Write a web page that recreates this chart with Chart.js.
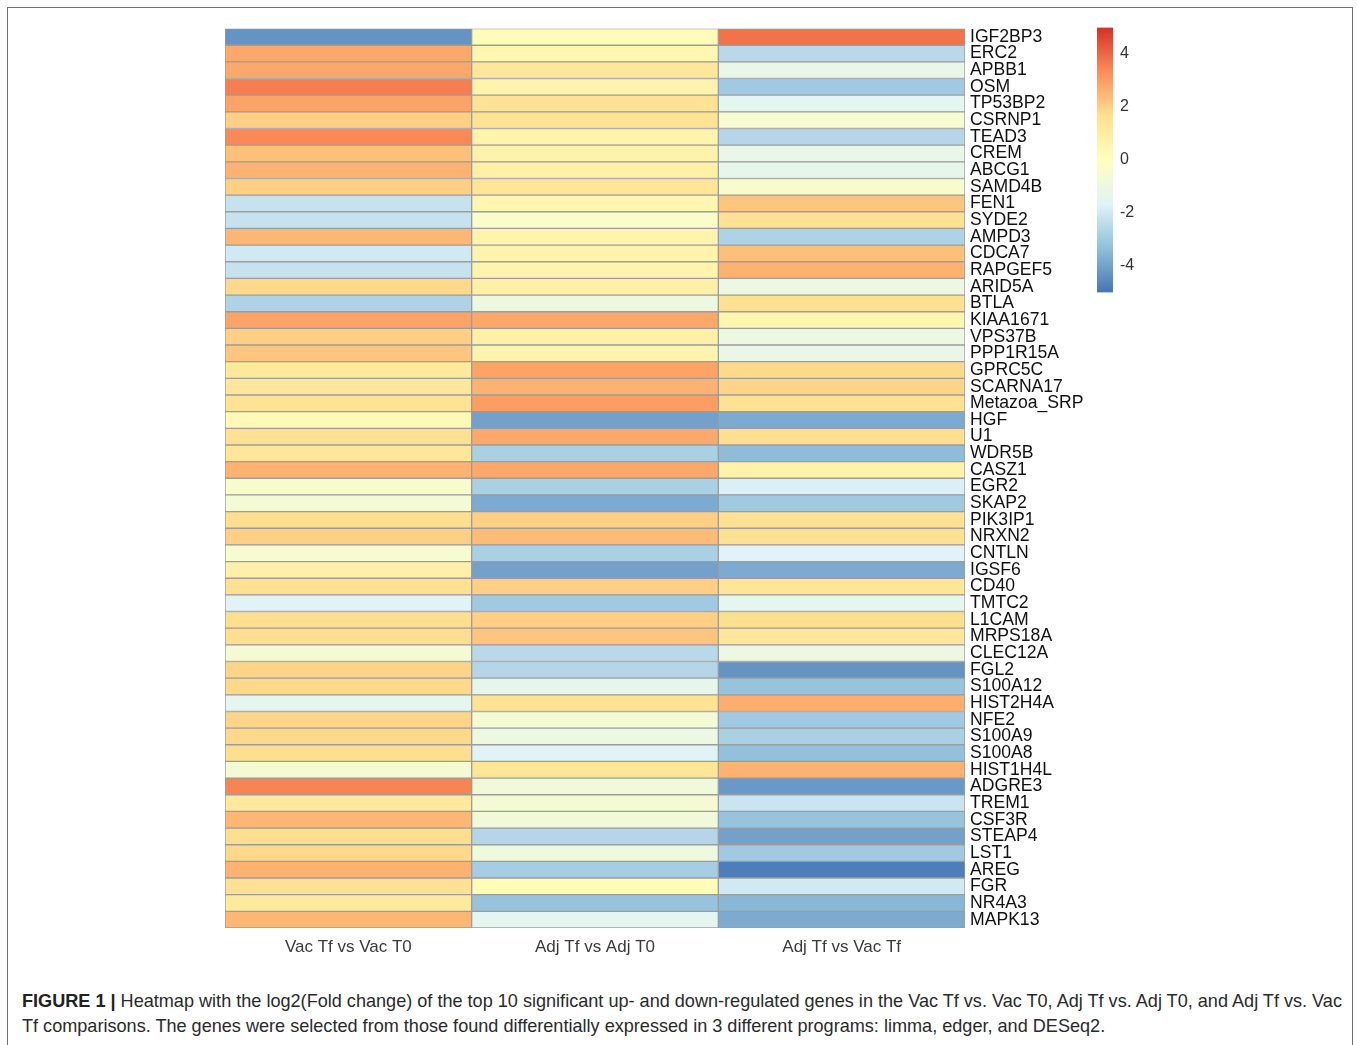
<!DOCTYPE html>
<html>
<head>
<meta charset="utf-8">
<script src="https://cdn.jsdelivr.net/npm/chart.js@4.4.0/dist/chart.umd.min.js"></script>
<style>
    body { margin: 0; background: #fff; width: 1357px; height: 1045px; overflow: hidden; position: relative; font-family: "Liberation Sans", Arial, sans-serif; }
    .frame { position: absolute; left: 7px; top: 7px; width: 1346px; height: 1100px; border: 1.5px solid #6e6e6e; box-sizing: border-box; }
    #heatWrap { position: absolute; left: 215px; top: 13px; width: 875px; height: 955px; }
    #barWrap { position: absolute; left: 1087px; top: 11px; width: 58px; height: 298px; }
    .caption { position: absolute; left: 22px; top: 989px; font-size: 18.1px; line-height: 25px; color: #2a2a2a; white-space: nowrap; }
    .caption b { color: #222; }
</style>
</head>
<body>
<div class="frame"></div>
<div id="heatWrap"><canvas id="heatmap"></canvas></div>
<div id="barWrap"><canvas id="colorbar"></canvas></div>
<div class="caption">
    <b>FIGURE 1 |</b> Heatmap with the log2(Fold change) of the top 10 significant up- and down-regulated genes in the Vac Tf vs. Vac T0, Adj Tf vs. Adj T0, and Adj Tf vs. Vac<br>
    Tf comparisons. The genes were selected from those found differentially expressed in 3 different programs: limma, edger, and DESeq2.
</div>

<script>
// genes, top to bottom
const genes = ['IGF2BP3', 'ERC2', 'APBB1', 'OSM', 'TP53BP2', 'CSRNP1', 'TEAD3', 'CREM', 'ABCG1', 'SAMD4B',
    'FEN1', 'SYDE2', 'AMPD3', 'CDCA7', 'RAPGEF5', 'ARID5A', 'BTLA', 'KIAA1671', 'VPS37B', 'PPP1R15A',
    'GPRC5C', 'SCARNA17', 'Metazoa_SRP', 'HGF', 'U1', 'WDR5B', 'CASZ1', 'EGR2', 'SKAP2', 'PIK3IP1',
    'NRXN2', 'CNTLN', 'IGSF6', 'CD40', 'TMTC2', 'L1CAM', 'MRPS18A', 'CLEC12A', 'FGL2', 'S100A12',
    'HIST2H4A', 'NFE2', 'S100A9', 'S100A8', 'HIST1H4L', 'ADGRE3', 'TREM1', 'CSF3R', 'STEAP4', 'LST1',
    'AREG', 'FGR', 'NR4A3', 'MAPK13'];

const comparisons = ['Vac Tf vs Vac T0', 'Adj Tf vs Adj T0', 'Adj Tf vs Vac Tf'];

// log2 fold change, one array per comparison
const vacTfVsVacT0 = [-4.3, 2.8, 2.8, 3.6, 2.9, 2.0, 3.4, 2.3, 2.6, 2.0,
    -2.2, -2.2, 2.5, -2.0, -2.2, 1.8, -2.7, 2.9, 2.0, 2.2,
    1.2, 1.3, 1.5, 0.3, 1.6, 1.3, 2.6, -0.4, -0.6, 1.7,
    2.0, -0.5, 0.8, 1.6, -1.6, 1.7, 1.7, -0.6, 1.9, 1.8,
    -1.4, 1.9, 1.8, 1.7, -0.6, 3.5, 1.2, 2.5, 1.7, 1.8,
    2.6, 1.6, 1.2, 2.5];

const adjTfVsAdjT0 = [0.2, 0.5, 1.3, 0.6, 1.5, 1.5, 0.6, 0.7, 0.8, 1.4,
    0.5, -0.3, 0.6, 0.6, 0.6, 0.8, -1.0, 2.8, 0.8, 0.6,
    2.9, 2.6, 3.0, -4.0, 2.8, -2.8, 2.8, -2.8, -3.8, 2.0,
    2.4, -2.8, -4.0, 2.0, -3.0, 2.0, 2.2, -2.5, -2.6, -1.3,
    1.5, -0.6, -1.0, -1.6, 1.4, -0.8, -0.6, -0.8, -2.6, -0.9,
    -2.9, 0.2, -3.2, -1.4];

const adjTfVsVacTf = [3.8, -2.5, -1.2, -3.0, -1.4, -0.5, -2.6, -1.2, -1.3, -0.4,
    2.2, 1.6, -2.7, 2.3, 2.6, -1.0, 1.6, 0.5, -1.0, -1.2,
    1.8, 1.9, 1.6, -3.8, 1.7, -3.4, 0.7, -1.8, -3.0, 1.6,
    1.6, -1.6, -3.8, 1.4, -1.4, 1.7, 1.3, -1.0, -4.3, -3.2,
    2.7, -3.0, -2.8, -3.3, 2.6, -4.2, -2.1, -3.2, -4.0, -3.0,
    -4.8, -2.0, -3.5, -3.8];

const colorbarTicks = [-4, -2, 0, 2, 4];

// RdYlBu (reversed), spread over -5..5
const palette = ['#4575B4', '#91BFDB', '#E0F3F8', '#FFFFBF', '#FEE090', '#FC8D59', '#D73027'];
const vMin = -5, vMax = 5;

function hexToRgb(h) {
    return [parseInt(h.slice(1, 3), 16), parseInt(h.slice(3, 5), 16), parseInt(h.slice(5, 7), 16)];
}

function valueColor(v) {
    let t = (Math.min(vMax, Math.max(vMin, v)) - vMin) / (vMax - vMin) * (palette.length - 1);
    let i = Math.min(palette.length - 2, Math.floor(t));
    let f = t - i;
    let a = hexToRgb(palette[i]), b = hexToRgb(palette[i + 1]);
    let c = a.map((x, k) => Math.round(x + (b[k] - x) * f));
    return `rgb(${c[0]},${c[1]},${c[2]})`;
}

const seriesList = [vacTfVsVacT0, adjTfVsAdjT0, adjTfVsVacTf];

const heatDatasets = seriesList.map((values, idx) => ({
    label: comparisons[idx],
    data: values.map(() => 1),
    backgroundColor: values.map(valueColor),
    borderColor: '#9c9c9c',
    borderWidth: 1,
    borderSkipped: false,
    barPercentage: 1,
    categoryPercentage: 1
}));

new Chart(document.getElementById('heatmap'), {
    type: 'bar',
    data: {
        labels: genes,
        datasets: heatDatasets
    },
    options: {
        indexAxis: 'y',
        responsive: true,
        maintainAspectRatio: false,
        animation: false,
        layout: { padding: { left: 10, top: 5, right: 0, bottom: 0 } },
        plugins: {
            legend: { display: false },
            tooltip: { enabled: false }
        },
        scales: {
            x: {
                stacked: true,
                min: 0,
                max: 3,
                grid: { display: false, drawTicks: false },
                border: { display: false },
                afterBuildTicks: (scale) => {
                    scale.ticks = comparisons.map((c, i) => ({ value: i + 0.5 }));
                },
                afterFit: (scale) => { scale.height = 40; },
                ticks: {
                    autoSkip: false,
                    maxRotation: 0,
                    padding: 9,
                    color: '#3a3a3a',
                    font: { family: '"Liberation Sans", Arial, sans-serif', size: 17 },
                    callback: (v) => comparisons[Math.floor(v)]
                }
            },
            y: {
                stacked: true,
                position: 'right',
                grid: { display: false, drawTicks: false },
                border: { display: false },
                afterFit: (scale) => { scale.width = 125; },
                ticks: {
                    autoSkip: false,
                    padding: 5,
                    color: '#111',
                    font: { family: '"Liberation Sans", Arial, sans-serif', size: 17.6 }
                }
            }
        }
    }
});

// colour key
new Chart(document.getElementById('colorbar'), {
    type: 'bar',
    data: {
        labels: [''],
        datasets: [{
            data: [[vMin, vMax]],
            barPercentage: 1,
            categoryPercentage: 1,
            backgroundColor: (ctx) => {
                const area = ctx.chart.chartArea;
                if (!area) return palette[3];
                const g = ctx.chart.ctx.createLinearGradient(0, area.bottom, 0, area.top);
                palette.forEach((c, i) => g.addColorStop(i / (palette.length - 1), c));
                return g;
            }
        }]
    },
    options: {
        responsive: true,
        maintainAspectRatio: false,
        animation: false,
        layout: { padding: { left: 10, top: 3, bottom: 3, right: 0 } },
        plugins: {
            legend: { display: false },
            tooltip: { enabled: false }
        },
        scales: {
            x: { display: false },
            y: {
                position: 'right',
                min: vMin,
                max: vMax,
                grid: { display: false, drawTicks: false },
                border: { display: false },
                afterBuildTicks: (scale) => {
                    scale.ticks = colorbarTicks.map(v => ({ value: v }));
                },
                afterFit: (scale) => { scale.width = 32; },
                ticks: {
                    padding: 7,
                    color: '#333',
                    font: { family: '"Liberation Sans", Arial, sans-serif', size: 16 }
                }
            }
        }
    }
});
</script>
</body>
</html>
